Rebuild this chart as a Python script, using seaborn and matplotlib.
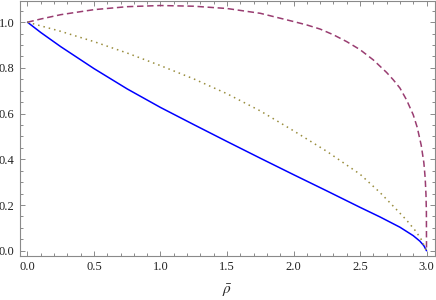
import numpy as np
import pandas as pd
import seaborn as sns
import matplotlib
matplotlib.use("Agg")
import matplotlib.pyplot as plt
from matplotlib.ticker import MultipleLocator, FormatStrFormatter

# ---- data ----
rho_solid = [0.0, 0.1, 0.25, 0.5, 0.75, 1.0, 1.25, 1.5, 1.75, 2.0, 2.25, 2.5, 2.65, 2.8, 2.9, 2.95, 2.98, 3.0]
val_solid = [1.0, 0.955, 0.893, 0.797, 0.708, 0.627, 0.552, 0.478, 0.405, 0.333, 0.262, 0.19, 0.148, 0.103, 0.066, 0.042, 0.022, 0.0]

rho_dashed = [0.0, 0.1, 0.25, 0.5, 0.75, 1.0, 1.25, 1.5, 1.75, 2.0, 2.1, 2.2, 2.3, 2.4, 2.5, 2.6, 2.7,
              2.75, 2.8, 2.85, 2.9, 2.93, 2.96, 2.98, 2.99, 2.996, 2.999, 3.0]
val_dashed = [1.0, 1.014, 1.033, 1.055, 1.068, 1.073, 1.07, 1.06, 1.039, 1.003, 0.988, 0.97, 0.945, 0.915, 0.88, 0.835, 0.78,
              0.748, 0.712, 0.66, 0.595, 0.54, 0.462, 0.385, 0.318, 0.245, 0.17, 0.0]

rho_dotted = [0.0, 0.25, 0.5, 0.75, 1.0, 1.25, 1.5, 1.75, 2.0, 2.25, 2.5, 2.65, 2.75, 2.85, 2.92, 2.96, 3.0]
val_dotted = [1.0, 0.96, 0.915, 0.865, 0.81, 0.752, 0.687, 0.612, 0.525, 0.435, 0.335, 0.255, 0.195, 0.134, 0.085, 0.05, 0.0]

x_ticks = [0.0, 0.5, 1.0, 1.5, 2.0, 2.5, 3.0]
y_ticks = [0.0, 0.2, 0.4, 0.6, 0.8, 1.0]
x_label = r"$\bar{\rho}$"

sns.set_style("ticks")
plt.rcParams["font.family"] = ["Liberation Serif", "DejaVu Serif"]
plt.rcParams["mathtext.fontset"] = "stix"

fig = plt.figure(figsize=(4.36, 3.0), dpi=100)
W, H = 436, 300
left, right, top, bottom = 19.5, 434.5, 0.5, 256.0
ax = fig.add_axes([left / W, 1 - bottom / H, (right - left) / W, (bottom - top) / H])

df_s = pd.DataFrame({"rho": rho_solid, "v": val_solid})
df_d = pd.DataFrame({"rho": rho_dashed, "v": val_dashed})
df_o = pd.DataFrame({"rho": rho_dotted, "v": val_dotted})

sns.lineplot(data=df_s, x="rho", y="v", ax=ax, color="#0000ff", lw=1.1, sort=False)
sns.lineplot(data=df_d, x="rho", y="v", ax=ax, color="#993d71", lw=1.1, sort=False)
sns.lineplot(data=df_o, x="rho", y="v", ax=ax, color="#998d3d", lw=1.1, sort=False)
lines = ax.get_lines()
lines[1].set_dashes((4.2, 2.4))
lines[2].set_dashes((1.0, 2.6))
for ln in lines:
    ln.set_solid_joinstyle("round")
    ln.set_dash_joinstyle("round")

ax.set_xlim(-0.06, 3.06)
ax.set_ylim(-0.023, 1.095)
ax.set_xticks(x_ticks)
ax.set_yticks(y_ticks)
ax.xaxis.set_major_formatter(FormatStrFormatter("%.1f"))
ax.yaxis.set_major_formatter(FormatStrFormatter("%.1f"))
ax.xaxis.set_minor_locator(MultipleLocator(0.1))
ax.yaxis.set_minor_locator(MultipleLocator(0.05))

frame_c = "#8a8a8a"
for s in ax.spines.values():
    s.set_color(frame_c)
    s.set_linewidth(0.8)
    s.set_visible(True)
ax.tick_params(which="both", direction="in", top=True, right=True, color=frame_c, width=0.7)
ax.tick_params(which="major", length=3.5, labelsize=9, pad=3.5, labelcolor="#222222")
ax.tick_params(which="minor", length=2.0)
ax.set_xlabel(x_label, fontsize=11, labelpad=7)
ax.set_ylabel("")

fig.savefig("out.png", dpi=100)
